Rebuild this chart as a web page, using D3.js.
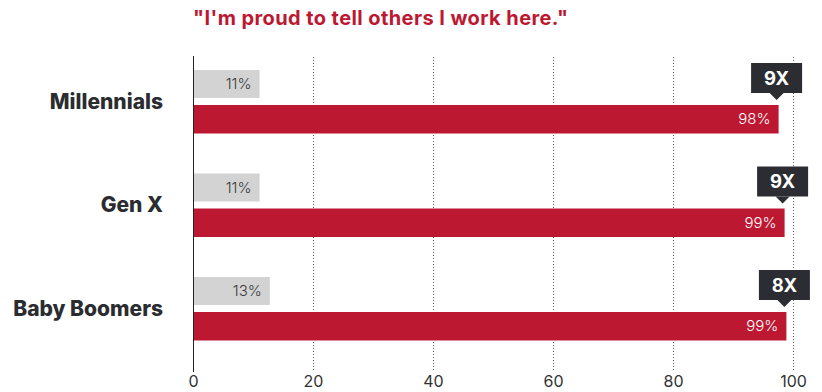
<!DOCTYPE html>
<html>
<head>
<meta charset="utf-8">
<script src="https://cdn.jsdelivr.net/npm/d3@7"></script>
<style>
  body { margin: 0; background: #fff; }
  svg { display: block; font-family: Inter, "Noto Sans", sans-serif; }
</style>
</head>
<body>
<div id="plotDiv"></div>
<script>
var groups = ["Millennials", "Gen X", "Baby Boomers"];
var grayValues = [11.1, 11.1, 12.8];
var redValues = [97.6, 98.6, 98.9];
var valueLabels = [["11%", "98%"], ["11%", "99%"], ["13%", "99%"]];
var multipliers = ["9X", "9X", "8X"];
var xTicks = [0, 20, 40, 60, 80, 100];
var title = "\"I'm proud to tell others I work here.\"";

window.addEventListener("load", makeChart)

function makeChart() {
    var width = 822, height = 392;
    var red = "#bd1831", gray = "#d3d3d3", dark = "#2b2d32";

    var svg = d3.select("#plotDiv")
        .append("svg")
        .attr("width", width)
        .attr("height", height);

    var x = d3.scaleLinear()
        .domain([0, 100])
        .range([193, 793]);

    var y = d3.scaleBand()
        .domain(groups)
        .range([70, 380.5])
        .paddingInner(0)
        .paddingOuter(0);

    var barH = 28, gap = 7;

    // title
    var titleText = svg.append("text")
        .attr("x", x(0))
        .attr("y", 25)
        .attr("fill", red)
        .attr("font-size", "20px")
        .attr("font-weight", 700)
        .text(title);
    titleText.attr("textLength", 375).attr("lengthAdjust", "spacing");

    // dotted grid lines
    svg.append("g")
        .selectAll("line")
        .data(xTicks.filter(function(d) { return d > 0; }))
        .enter()
        .append("line")
          .attr("x1", function(d) { return Math.round(x(d)) + 0.5; })
          .attr("x2", function(d) { return Math.round(x(d)) + 0.5; })
          .attr("y1", 57)
          .attr("y2", 371)
          .attr("stroke", "#666")
          .attr("stroke-width", 1)
          .attr("stroke-dasharray", "1,2");

    // bottom tick labels
    var axis = d3.axisBottom(x)
        .tickValues(xTicks)
        .tickSize(0)
        .tickPadding(0);

    var axisG = svg.append("g")
        .attr("transform", "translate(0,376)")
        .call(axis);
    axisG.select(".domain").remove();
    axisG.selectAll("text")
        .attr("font-family", "Inter, sans-serif")
        .attr("font-size", "16px")
        .attr("fill", "#333")
        .attr("dy", "0.71em");

    var rows = svg.append("g")
        .selectAll("g")
        .data(groups)
        .enter()
        .append("g")
          .attr("transform", function(d) { return "translate(0," + y(d) + ")"; });

    // gray bars
    rows.append("rect")
        .attr("x", x(0))
        .attr("y", 0)
        .attr("width", function(d, i) { return x(grayValues[i]) - x(0); })
        .attr("height", barH)
        .attr("fill", gray);

    rows.append("text")
        .attr("x", function(d, i) { return x(grayValues[i]) - 8; })
        .attr("y", barH / 2)
        .attr("dy", "0.35em")
        .attr("text-anchor", "end")
        .attr("font-size", "15px")
        .attr("font-weight", 300)
        .attr("fill", "#3a3a3a")
        .text(function(d, i) { return valueLabels[i][0]; });

    // red bars
    rows.append("rect")
        .attr("x", x(0))
        .attr("y", barH + gap)
        .attr("width", function(d, i) { return x(redValues[i]) - x(0); })
        .attr("height", barH + 0.5)
        .attr("fill", red);

    rows.append("text")
        .attr("x", function(d, i) { return x(redValues[i]) - 8; })
        .attr("y", barH + gap + barH / 2)
        .attr("dy", "0.35em")
        .attr("text-anchor", "end")
        .attr("font-size", "15px")
        .attr("font-weight", 300)
        .attr("fill", "#fff")
        .text(function(d, i) { return valueLabels[i][1]; });

    // category labels
    rows.append("text")
        .attr("x", 163)
        .attr("y", barH + gap / 2)
        .attr("dy", "0.35em")
        .attr("text-anchor", "end")
        .attr("font-size", "21px")
        .attr("font-weight", 800)
        .attr("fill", "#2a2c30")
        .text(function(d) { return d; });

    // multiplier badges
    var badge = rows.append("g")
        .attr("transform", function(d, i) {
            return "translate(" + (x(redValues[i]) - 2) + "," + (barH + gap - 12) + ")";
        });

    badge.append("rect")
        .attr("x", -25.5)
        .attr("y", -30)
        .attr("width", 51)
        .attr("height", 30)
        .attr("fill", dark);

    badge.append("path")
        .attr("d", "M-7,0 L7,0 L0,7 Z")
        .attr("fill", dark);

    badge.append("text")
        .attr("x", 0)
        .attr("y", -15)
        .attr("dy", "0.36em")
        .attr("text-anchor", "middle")
        .attr("font-size", "18.5px")
        .attr("font-weight", 700)
        .attr("fill", "#fff")
        .text(function(d, i) { return multipliers[i]; });

    // zero axis line
    svg.append("line")
        .attr("x1", x(0) + 0.5)
        .attr("x2", x(0) + 0.5)
        .attr("y1", 56)
        .attr("y2", 372)
        .attr("stroke", "#222")
        .attr("stroke-width", 1);
}
</script>
</body>
</html>
